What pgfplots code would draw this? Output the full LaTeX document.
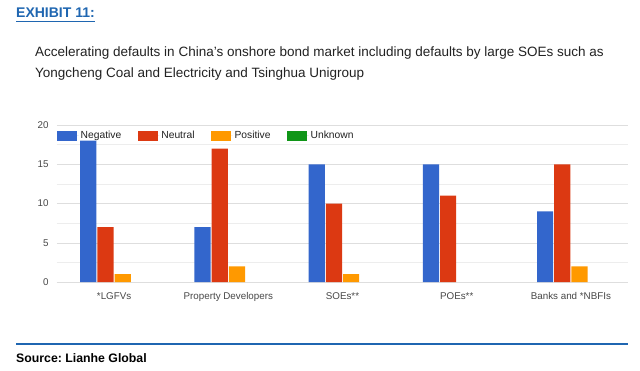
\documentclass[border=0pt]{standalone}
\usepackage{pgfplots}
\pgfplotsset{compat=1.18}
\usepackage{fontspec}
\setmainfont{Liberation Sans}
\frenchspacing
\definecolor{gneg}{HTML}{3366CC}
\definecolor{gneu}{HTML}{DC3912}
\definecolor{gpos}{HTML}{FF9900}
\definecolor{gunk}{HTML}{109618}
\definecolor{exblue}{HTML}{1F66B1}
\definecolor{txt}{HTML}{222222}
\pgfplotsset{gbox/.style={legend image code/.code={\fill[##1] (0pt,-5pt) rectangle (20pt,5pt); \path (0pt,0pt) -- (21.5pt,0pt);}}}
\begin{document}
\begin{tikzpicture}[x=1pt,y=1pt]
\fill[white] (0,0) rectangle (640,370);
\node[anchor=base west, font=\fontsize{14}{16}\selectfont\bfseries, text=exblue, inner sep=0] at (16,352) {EXHIBIT 11:};
\draw[exblue, line width=1.5pt] (16,348.5) -- (95,348.5);
\node[anchor=base west, font=\fontsize{13.5}{16}\selectfont, text=txt, inner sep=0] at (35,313) {Accelerating defaults in China’s onshore bond market including defaults by large SOEs such as};
\node[anchor=base west, font=\fontsize{13.5}{16}\selectfont, text=txt, inner sep=0] at (35,292) {Yongcheng Coal and Electricity and Tsinghua Unigroup};
\draw[exblue, line width=1.3pt] (16,26) -- (628,26);
\node[anchor=base west, font=\fontsize{12.3}{14}\selectfont\bfseries, text=black, inner sep=0] at (16,8) {Source: Lianhe Global};
\begin{axis}[
  at={(57pt,88pt)}, anchor=south west,
  scale only axis, width=571pt, height=157pt,
  ybar=1pt, bar width=16.2pt,
  xmin=-0.5, xmax=4.5, ymin=0, ymax=20,
  xtick={0,1,2,3,4},
  xticklabels={*LGFVs, Property Developers, SOEs**, POEs**, Banks and *NBFIs},
  ytick={0,5,10,15,20},
  minor ytick={2.5,7.5,12.5,17.5},
  ymajorgrids, yminorgrids,
  major grid style={draw=black!13},
  minor grid style={draw=black!7},
  axis line style={draw=none},
  tick style={draw=none},
  /pgf/number format/assume math mode=true,
  tick label style={font=\fontsize{9.8}{11}\selectfont, text=black!72},
  yticklabel style={xshift=-5pt},
  xticklabel style={yshift=-3pt},
  extra y ticks={0}, extra y tick labels={},
  extra y tick style={grid style={draw=black!55, line width=1pt}},
  legend columns=4,
  legend style={draw=none, fill=none, at={(0,0.975)}, anchor=north west,
    font=\fontsize{10.3}{12}\selectfont, text=txt, inner sep=0pt,
    /tikz/every even column/.append style={column sep=14.5pt}},
  clip=false,
]
\addplot[fill=gneg, draw=none, gbox] coordinates {(0,18) (1,7) (2,15) (3,15) (4,9)};
\addplot[fill=gneu, draw=none, gbox] coordinates {(0,7) (1,17) (2,10) (3,11) (4,15)};
\addplot[fill=gpos, draw=none, gbox] coordinates {(0,1) (1,2) (2,1) (3,nan) (4,2)};
\addplot[fill=gunk, draw=none, gbox] coordinates {(0,nan) (1,nan) (2,nan) (3,nan) (4,nan)};
\addlegendimage{fill=gunk, draw=none, gbox}
\legend{Negative, Neutral, Positive, Unknown}
\end{axis}
\end{tikzpicture}
\end{document}
